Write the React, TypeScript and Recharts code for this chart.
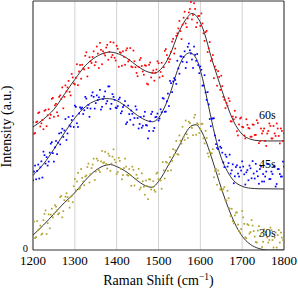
import React from 'react';
import {
  ComposedChart,
  Scatter,
  Line,
  XAxis,
  YAxis,
  CartesianGrid,
  ReferenceLine,
  ReferenceDot,
} from 'recharts';

// Raman shift grid of the measured points (cm^-1), first sweep
const shift = [
  1200, 1205, 1210, 1215, 1220, 1225, 1230, 1235, 1240, 1245,
  1250, 1255, 1260, 1265, 1270, 1275, 1280, 1285, 1290, 1295,
  1300, 1305, 1310, 1315, 1320, 1325, 1330, 1335, 1340, 1345,
  1350, 1355, 1360, 1365, 1370, 1375, 1380, 1385, 1390, 1395,
  1400, 1405, 1410, 1415, 1420, 1425, 1430, 1435, 1440, 1445,
  1450, 1455, 1460, 1465, 1470, 1475, 1480, 1485, 1490, 1495,
  1500, 1505, 1510, 1515, 1520, 1525, 1530, 1535, 1540, 1545,
  1550, 1555, 1560, 1565, 1570, 1575, 1580, 1585, 1590, 1595,
  1600, 1605, 1610, 1615, 1620, 1625, 1630, 1635, 1640, 1645,
  1650, 1655, 1660, 1665, 1670, 1675, 1680, 1685, 1690, 1695,
  1700, 1705, 1710, 1715, 1720, 1725, 1730, 1735, 1740, 1745,
  1750, 1755, 1760, 1765, 1770, 1775, 1780, 1785, 1790, 1795,
  1800,
];

// second (interleaved) sweep
const shiftB = [
  1202.5, 1207.5, 1212.5, 1217.5, 1222.5, 1227.5, 1232.5, 1237.5, 1242.5, 1247.5,
  1252.5, 1257.5, 1262.5, 1267.5, 1272.5, 1277.5, 1282.5, 1287.5, 1292.5, 1297.5,
  1302.5, 1307.5, 1312.5, 1317.5, 1322.5, 1327.5, 1332.5, 1337.5, 1342.5, 1347.5,
  1352.5, 1357.5, 1362.5, 1367.5, 1372.5, 1377.5, 1382.5, 1387.5, 1392.5, 1397.5,
  1402.5, 1407.5, 1412.5, 1417.5, 1422.5, 1427.5, 1432.5, 1437.5, 1442.5, 1447.5,
  1452.5, 1457.5, 1462.5, 1467.5, 1472.5, 1477.5, 1482.5, 1487.5, 1492.5, 1497.5,
  1502.5, 1507.5, 1512.5, 1517.5, 1522.5, 1527.5, 1532.5, 1537.5, 1542.5, 1547.5,
  1552.5, 1557.5, 1562.5, 1567.5, 1572.5, 1577.5, 1582.5, 1587.5, 1592.5, 1597.5,
  1602.5, 1607.5, 1612.5, 1617.5, 1622.5, 1627.5, 1632.5, 1637.5, 1642.5, 1647.5,
  1652.5, 1657.5, 1662.5, 1667.5, 1672.5, 1677.5, 1682.5, 1687.5, 1692.5, 1697.5,
  1702.5, 1707.5, 1712.5, 1717.5, 1722.5, 1727.5, 1732.5, 1737.5, 1742.5, 1747.5,
  1752.5, 1757.5, 1762.5, 1767.5, 1772.5, 1777.5, 1782.5, 1787.5, 1792.5, 1797.5,
];

// measured intensities (a.u., stacked)
const dots60s = [
  51.4, 47.0, 51.6, 55.3, 50.9, 48.5, 56.3, 54.1, 52.9, 60.7,
  53.5, 58.7, 53.9, 62.1, 65.3, 61.5, 63.7, 67.9, 62.1, 69.3,
  66.5, 74.6, 71.7, 68.8, 72.9, 78.0, 69.7, 77.4, 75.1, 79.8,
  75.5, 78.9, 83.2, 74.6, 78.9, 81.3, 76.4, 83.5, 78.3, 77.2,
  82.0, 73.6, 79.2, 79.8, 74.4, 81.0, 76.4, 73.7, 80.1, 73.4,
  69.8, 76.3, 73.9, 70.4, 74.0, 66.5, 75.3, 71.2, 68.0, 72.5,
  75.0, 71.5, 69.8, 80.0, 78.3, 75.5, 79.6, 84.8, 80.9, 87.0,
  92.0, 84.7, 93.3, 91.0, 93.0, 96.8, 92.6, 99.1, 89.5, 94.0,
  90.0, 91.0, 84.0, 88.0, 81.0, 76.0, 78.3, 73.7, 66.0, 69.5,
  70.0, 61.5, 57.0, 57.9, 59.8, 51.6, 52.5, 53.3, 46.0, 52.8,
  49.5, 46.0, 52.5, 49.0, 45.5, 50.4, 46.2, 52.1, 42.9, 48.8,
  47.8, 43.8, 46.8, 50.8, 44.8, 49.8, 45.8, 48.8, 42.8, 47.8,
  46.8,
];
const dots60sB = [
  46.7, 51.3, 55.0, 49.6, 52.2, 55.9, 49.7, 56.5, 54.3, 61.1,
  58.1, 55.3, 61.5, 60.7, 56.9, 66.1, 65.3, 63.5, 70.7, 66.9,
  69.1, 66.2, 74.3, 74.4, 72.5, 79.4, 73.1, 75.8, 77.5, 74.2,
  81.7, 73.1, 80.4, 79.8, 78.1, 82.4, 79.5, 77.4, 83.3, 76.1,
  80.8, 79.4, 74.0, 77.6, 80.2, 75.7, 81.1, 73.4, 75.8, 71.1,
  73.6, 77.1, 71.7, 74.2, 66.8, 74.4, 69.3, 72.1, 71.2, 75.8,
  69.3, 75.2, 73.4, 80.7, 76.9, 76.6, 83.7, 78.9, 86.0, 89.0,
  87.9, 90.5, 95.7, 89.5, 95.4, 99.6, 94.4, 96.8, 91.3, 94.0,
  95.0, 87.0, 87.5, 79.5, 83.5, 76.7, 69.0, 72.4, 71.8, 64.3,
  65.8, 60.3, 59.0, 60.9, 51.7, 53.6, 55.9, 47.7, 50.4, 53.2,
  49.3, 44.8, 50.3, 48.8, 45.5, 50.3, 46.2, 51.0, 43.8, 46.8,
  48.8, 41.8, 47.8, 49.8, 44.8, 46.8, 50.8, 45.8, 48.8, 43.8,
];

const dots45s = [
  28.0, 33.9, 31.8, 28.7, 35.6, 39.5, 34.7, 33.9, 39.1, 43.3,
  35.5, 43.8, 43.1, 42.4, 48.7, 48.0, 44.2, 53.4, 49.6, 53.8,
  58.0, 50.9, 54.8, 56.7, 54.6, 61.5, 57.0, 53.5, 62.0, 61.5,
  59.0, 60.2, 64.3, 57.5, 61.6, 58.8, 65.7, 56.7, 62.6, 60.3,
  57.0, 60.5, 54.9, 57.4, 59.8, 51.3, 54.6, 56.0, 50.3, 57.7,
  53.0, 50.6, 49.1, 53.7, 50.2, 44.8, 51.7, 55.5, 49.0, 53.5,
  52.0, 56.5, 61.0, 55.5, 59.7, 57.8, 67.0, 67.7, 68.3, 76.0,
  70.8, 77.7, 77.5, 73.1, 81.6, 80.2, 76.5, 81.7, 76.0, 74.3,
  73.7, 66.0, 70.2, 60.3, 58.5, 49.7, 52.8, 46.0, 41.0, 44.0,
  41.0, 35.2, 38.3, 33.5, 38.3, 32.0, 26.8, 33.3, 30.7, 33.2,
  35.6, 30.4, 31.2, 28.0, 32.8, 35.7, 28.7, 31.6, 26.6, 33.5,
  30.5, 29.5, 34.5, 28.5, 31.5, 33.5, 25.5, 32.5, 30.5, 29.5,
  33.5,
];
const dots45sB = [
  31.5, 28.4, 34.3, 33.2, 29.1, 38.1, 37.3, 35.5, 42.7, 38.9,
  41.2, 38.5, 46.8, 47.1, 45.4, 52.6, 46.8, 50.0, 52.2, 49.4,
  57.5, 49.4, 57.3, 57.2, 56.1, 60.8, 58.3, 56.8, 63.3, 56.8,
  62.1, 61.3, 56.4, 60.6, 63.7, 59.8, 65.7, 58.7, 61.5, 57.2,
  57.8, 61.2, 55.7, 58.1, 50.6, 58.0, 52.3, 54.7, 53.0, 56.4,
  48.8, 53.4, 49.9, 55.5, 50.0, 47.8, 54.6, 47.8, 53.3, 54.8,
  52.8, 55.3, 60.8, 55.6, 62.8, 67.9, 63.4, 69.0, 66.7, 72.9,
  77.8, 75.6, 79.8, 75.4, 82.9, 78.9, 73.1, 78.4, 78.7, 71.0,
  72.4, 66.1, 63.3, 63.4, 52.6, 52.8, 52.9, 42.5, 40.5, 41.5,
  39.1, 33.3, 37.4, 34.9, 30.7, 34.4, 29.6, 34.0, 29.5, 31.9,
  33.5, 26.3, 32.1, 33.9, 28.8, 30.7, 34.6, 29.6, 32.5, 27.5,
  27.5, 31.5, 34.5, 28.5, 30.5, 33.5, 26.5, 32.5, 29.5, 35.5,
];

const dots30s = [
  7.0, 4.8, 11.6, 8.4, 6.2, 12.0, 15.9, 10.8, 8.7, 16.6,
  14.5, 17.4, 14.3, 21.2, 13.1, 20.0, 22.8, 19.6, 21.4, 19.2,
  28.5, 27.5, 24.5, 32.5, 27.5, 29.5, 33.3, 27.1, 32.9, 36.7,
  31.5, 35.9, 31.3, 39.8, 35.2, 34.6, 38.7, 31.8, 37.5, 36.3,
  30.5, 37.0, 32.6, 30.1, 36.7, 30.2, 32.5, 25.8, 32.2, 28.5,
  28.8, 24.3, 30.8, 25.4, 27.9, 20.4, 28.3, 25.2, 24.0, 30.7,
  28.5, 27.9, 35.3, 28.7, 35.1, 34.5, 32.0, 40.5, 40.0, 38.5,
  46.0, 42.7, 45.3, 52.0, 45.0, 51.0, 49.0, 53.2, 46.3, 50.4,
  48.5, 50.7, 42.8, 45.0, 37.5, 39.0, 40.5, 31.8, 26.2, 30.5,
  25.0, 24.5, 20.0, 23.8, 16.7, 16.5, 10.7, 15.0, 10.2, 7.0,
  15.7, 10.5, 4.7, 10.0, 7.2, 9.8, 5.4, 3.0, 9.6, 6.5,
  3.3, 7.2, 5.0, 4.0, 8.0, 1.0, 7.0, 6.0, 3.0, 5.0,
  8.0,
];
const dots30sB = [
  11.4, 5.2, 8.0, 9.8, 6.6, 14.5, 6.4, 14.3, 14.2, 13.1,
  18.0, 15.9, 14.8, 21.7, 15.6, 21.4, 21.2, 17.0, 21.8, 25.6,
  24.0, 31.0, 25.0, 29.0, 26.0, 29.9, 34.7, 30.5, 34.3, 28.1,
  36.7, 32.1, 35.6, 35.0, 39.4, 32.7, 37.8, 34.7, 40.4, 35.2,
  31.3, 35.8, 28.4, 32.9, 33.5, 29.9, 30.2, 33.5, 25.9, 30.2,
  32.6, 25.1, 27.6, 22.2, 25.7, 28.4, 24.3, 27.6, 23.4, 31.1,
  28.2, 24.6, 32.0, 35.4, 31.8, 37.3, 35.8, 38.3, 43.8, 38.3,
  43.9, 49.5, 44.2, 46.5, 51.5, 49.5, 46.1, 54.3, 50.9, 47.0,
  50.6, 44.8, 47.9, 38.8, 39.3, 38.8, 29.2, 32.5, 31.9, 24.3,
  23.8, 25.3, 19.9, 20.8, 13.6, 11.6, 13.9, 15.1, 7.6, 8.4,
  13.1, 5.1, 10.4, 6.6, 12.0, 7.6, 3.2, 7.8, 5.6, 1.2,
  8.3, 6.1, 3.0, 9.0, 4.0, 5.0, 1.0, 8.0, 7.0, 4.0,
];

// fitted curves
const fit60sX = [1200, 1225, 1250, 1275, 1300, 1325, 1350, 1375, 1385, 1400, 1425, 1450, 1475, 1490, 1505, 1525, 1550, 1565, 1580, 1595, 1610, 1625, 1640, 1660, 1680, 1700, 1720, 1740, 1760, 1800];
const fit60sY = [49.4, 52.5, 56.5, 62.5, 68.5, 74, 77.5, 79.3, 79.5, 79, 77, 73.8, 71.5, 71, 72.5, 77.5, 88, 92.5, 95, 93, 87, 78, 70, 60, 51.5, 46.5, 44.5, 43.9, 43.8, 43.8];

const fit45sX = [1200, 1225, 1250, 1275, 1300, 1325, 1350, 1375, 1390, 1400, 1425, 1450, 1475, 1485, 1500, 1515, 1530, 1545, 1560, 1575, 1590, 1605, 1620, 1635, 1650, 1665, 1680, 1700, 1720, 1740, 1800];
const fit45sY = [30, 34.5, 40.5, 47, 53, 57.5, 60, 60.8, 60.6, 60, 57.3, 54, 51.8, 51.5, 53, 57.5, 64, 72, 77.5, 79.2, 77, 69, 57.5, 46, 37, 31.5, 27.8, 25.6, 24.8, 24.6, 24.5];

const fit30sX = [1200, 1225, 1250, 1275, 1300, 1325, 1350, 1375, 1385, 1400, 1425, 1450, 1475, 1485, 1500, 1525, 1550, 1565, 1580, 1590, 1600, 1615, 1630, 1645, 1660, 1675, 1690, 1705, 1720, 1740, 1760, 1800];
const fit30sY = [6, 10, 14.5, 19, 23, 28, 32, 34.1, 34.3, 33.5, 31.2, 27.8, 25.4, 25.2, 27.5, 34.5, 42, 47, 50, 50.3, 48.5, 43, 35.5, 27.5, 20, 13.5, 8.2, 4.5, 2.2, 0.6, 0, 0];

const xTicks = [1200, 1300, 1400, 1500, 1600, 1700, 1800];
const yTicks = [0];
const seriesNames = ['60s', '45s', '30s'];
const labelPos = [
  { x: 1760, y: 54.5 },
  { x: 1760, y: 34.8 },
  { x: 1760, y: 6.9 },
];

const pts = (xs: number[], ys: number[]) => xs.map((x, i) => ({ x, y: ys[i] }));

const FONT = "'Liberation Serif', 'Times New Roman', 'DejaVu Serif', serif";

const makeDot = (color: string) => (props: any) => {
  const { cx, cy } = props;
  if (cx == null || cy == null) return <g />;
  return <rect x={cx - 0.85} y={cy - 0.85} width={1.7} height={1.7} fill={color} />;
};

const XLabel = (props: any) => {
  const vb = props.viewBox || {};
  const cx = vb.x + vb.width / 2;
  const y = vb.y + 35;
  return (
    <text x={cx} y={y} textAnchor="middle" style={{ fontFamily: FONT, fontSize: 14 }} fill="#000">
      Raman Shift (cm
      <tspan dy={-5} style={{ fontSize: 9.5 }}>−1</tspan>
      <tspan dy={5}>)</tspan>
    </text>
  );
};

const YLabel = (props: any) => {
  const vb = props.viewBox || {};
  const x = vb.x + 11;
  const cy = vb.y + vb.height / 2 + 1;
  return (
    <text
      x={x}
      y={cy}
      textAnchor="middle"
      style={{ fontFamily: FONT, fontSize: 14 }}
      fill="#000"
      transform={`rotate(-90, ${x}, ${cy})`}
    >
      Intensity (a.u.)
    </text>
  );
};

const YTick = (props: any) => {
  const { x, y, payload } = props;
  return (
    <text x={x} y={y - 1.5} dy="0.32em" textAnchor="end" fill="#000" style={{ fontFamily: FONT, fontSize: 10.5 }}>
      {payload.value}
    </text>
  );
};

const colors = { s60: '#ff0000', s45: '#0000ff', s30: '#b0a32c' };

export default function App() {
  return (
    <div style={{ position: 'absolute', left: 0, top: 0, width: 298, height: 290, background: '#fff', fontFamily: FONT }}>
      <style>{`svg text, svg tspan { font-family: ${FONT} !important; }`}</style>
      <ComposedChart
        width={298}
        height={290}
        margin={{ top: 1, right: 14, bottom: 0, left: 0 }}
      >
        <CartesianGrid horizontal={false} stroke="#d2d2d2" strokeWidth={1} />
        <XAxis
          type="number"
          dataKey="x"
          domain={[1200, 1800]}
          ticks={xTicks}
          allowDataOverflow
          height={40}
          tickLine={false}
          tickSize={4}
          tickMargin={2}
          axisLine={{ stroke: '#333', strokeWidth: 1 }}
          tick={{ fontSize: 13, fill: '#000' }}
          label={<XLabel />}
        />
        <YAxis
          type="number"
          dataKey="y"
          domain={[0, 100]}
          ticks={yTicks}
          allowDataOverflow
          width={33}
          tickLine={false}
          tickSize={4}
          tickMargin={1}
          axisLine={{ stroke: '#333', strokeWidth: 1 }}
          tick={<YTick />}
          label={<YLabel />}
        />
        <ReferenceLine y={100} stroke="#333" strokeWidth={1} />
        <ReferenceLine x={1800} stroke="#333" strokeWidth={1} />
        <Scatter name="60s" data={[...pts(shift, dots60s), ...pts(shiftB, dots60sB)]} dataKey="y" fill={colors.s60} shape={makeDot(colors.s60)} isAnimationActive={false} />
        <Scatter name="45s" data={[...pts(shift, dots45s), ...pts(shiftB, dots45sB)]} dataKey="y" fill={colors.s45} shape={makeDot(colors.s45)} isAnimationActive={false} />
        <Scatter name="30s" data={[...pts(shift, dots30s), ...pts(shiftB, dots30sB)]} dataKey="y" fill={colors.s30} shape={makeDot(colors.s30)} isAnimationActive={false} />
        <Line data={pts(fit60sX, fit60sY)} dataKey="y" type="monotone" stroke="#333" strokeWidth={1} dot={false} isAnimationActive={false} />
        <Line data={pts(fit45sX, fit45sY)} dataKey="y" type="monotone" stroke="#333" strokeWidth={1} dot={false} isAnimationActive={false} />
        <Line data={pts(fit30sX, fit30sY)} dataKey="y" type="monotone" stroke="#333" strokeWidth={1} dot={false} isAnimationActive={false} />
        {seriesNames.map((n, i) => (
          <ReferenceDot
            key={n}
            x={labelPos[i].x}
            y={labelPos[i].y}
            r={0}
            fill="none"
            stroke="none"
            label={{ value: n, position: 'center', fontSize: 12, fill: '#000' }}
          />
        ))}
      </ComposedChart>
    </div>
  );
}
